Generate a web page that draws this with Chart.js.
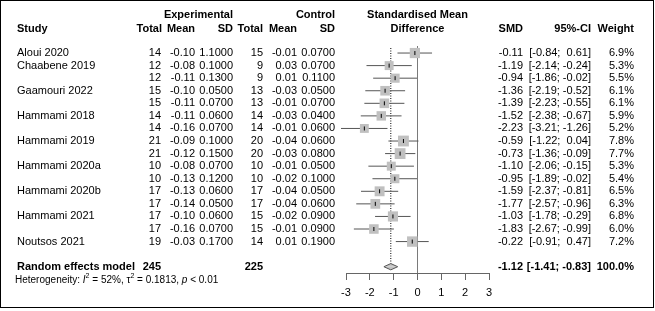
<!DOCTYPE html>
<html lang="en">
<head>
<meta charset="UTF-8" />
<title>Forest plot - SMD</title>
<script src="https://cdn.jsdelivr.net/npm/chart.js"></script>
<style>
  body { margin: 0; background: #fff; }
  canvas { display: block; }
</style>
</head>
<body>
<canvas id="forest" width="655" height="311"></canvas>
<script>
// study rows (empty name = second outcome of the same study)
const studies = ['Aloui 2020', 'Chaabene 2019', '', 'Gaamouri 2022', '', 'Hammami 2018', '',
  'Hammami 2019', '', 'Hammami 2020a', '', 'Hammami 2020b', '', 'Hammami 2021', '', 'Noutsos 2021'];
const expTotal = [14, 12, 12, 15, 15, 14, 14, 21, 21, 10, 10, 17, 17, 17, 17, 19];
const expMean = [-0.10, -0.08, -0.11, -0.10, -0.11, -0.11, -0.16, -0.09, -0.12, -0.08, -0.13, -0.13, -0.14, -0.10, -0.16, -0.03];
const expSD = [1.1, 0.1, 0.13, 0.05, 0.07, 0.06, 0.07, 0.1, 0.15, 0.07, 0.12, 0.06, 0.05, 0.06, 0.07, 0.17];
const ctlTotal = [15, 9, 9, 13, 13, 14, 14, 20, 20, 10, 10, 17, 17, 15, 15, 14];
const ctlMean = [-0.01, 0.03, 0.01, -0.03, -0.01, -0.03, -0.01, -0.04, -0.03, -0.01, -0.02, -0.04, -0.04, -0.02, -0.01, 0.01];
const ctlSD = [0.07, 0.07, 0.11, 0.05, 0.07, 0.04, 0.06, 0.06, 0.08, 0.05, 0.1, 0.05, 0.06, 0.09, 0.09, 0.19];
const smd = [-0.11, -1.19, -0.94, -1.36, -1.39, -1.52, -2.23, -0.59, -0.73, -1.10, -0.95, -1.59, -1.77, -1.03, -1.83, -0.22];
const ciLow = [-0.84, -2.14, -1.86, -2.19, -2.23, -2.38, -3.21, -1.22, -1.36, -2.06, -1.89, -2.37, -2.57, -1.78, -2.67, -0.91];
const ciHigh = [0.61, -0.24, -0.02, -0.52, -0.55, -0.67, -1.26, 0.04, -0.09, -0.15, -0.02, -0.81, -0.96, -0.29, -0.99, 0.47];
const weights = [6.9, 5.3, 5.5, 6.1, 6.1, 5.9, 5.2, 7.8, 7.7, 5.3, 5.4, 6.5, 6.3, 6.8, 6.0, 7.2];

// random effects model
const pooled = { smd: -1.12, low: -1.41, high: -0.83, expN: 245, ctlN: 225, weight: 100.0 };
const xTicks = [-3, -2, -1, 0, 1, 2, 3];

const FONT = "'Liberation Sans', Arial, sans-serif";
const pooledRow = 17;

Chart.defaults.font.family = FONT;
Chart.defaults.font.size = 11;
Chart.defaults.color = '#000';

function fmtCI(lo, hi) {
  const f = v => (v < 0 ? '' : ' ') + v.toFixed(2);
  return '[' + f(lo) + '; ' + f(hi) + ']';
}

// CI segments, broken with null points
const ciPoints = [];
smd.forEach((v, i) => {
  ciPoints.push({ x: ciLow[i], y: i }, { x: ciHigh[i], y: i }, { x: ciHigh[i], y: null });
});
const estPoints = smd.map((v, i) => ({ x: v, y: i }));
const squareRadius = weights.map(w => 2.75 * Math.sqrt(w));

const textPlugin = {
  id: 'forestText',
  afterDraw(chart) {
    const ctx = chart.ctx;
    const ys = chart.scales.y;
    const xs = chart.scales.x;
    ctx.save();
    ctx.fillStyle = '#000';
    ctx.textBaseline = 'middle';

    const put = (txt, x, row, align, bold, size) => {
      ctx.font = (bold ? 'bold ' : '') + (size || 11) + 'px ' + FONT;
      ctx.textAlign = align;
      ctx.fillText(txt, x, ys.getPixelForValue(row));
    };

    // headers
    put('Experimental', 233, -3, 'right', true);
    put('Control', 335, -3, 'right', true);
    put('Standardised Mean', xs.getPixelForValue(0), -3, 'center', true);
    put('Study', 17, -1.9, 'left', true);
    put('Total', 162, -1.9, 'right', true);
    put('Mean', 195, -1.9, 'right', true);
    put('SD', 233, -1.9, 'right', true);
    put('Total', 263, -1.9, 'right', true);
    put('Mean', 297, -1.9, 'right', true);
    put('SD', 335, -1.9, 'right', true);
    put('Difference', xs.getPixelForValue(0), -1.9, 'center', true);
    put('SMD', 523, -1.9, 'right', true);
    put('95%-CI', 591, -1.9, 'right', true);
    put('Weight', 634, -1.9, 'right', true);

    // study rows
    studies.forEach((name, i) => {
      put(name, 17, i, 'left');
      put(String(expTotal[i]), 161, i, 'right');
      put(expMean[i].toFixed(2), 195, i, 'right');
      put(expSD[i].toFixed(4), 233, i, 'right');
      put(String(ctlTotal[i]), 263, i, 'right');
      put(ctlMean[i].toFixed(2), 297, i, 'right');
      put(ctlSD[i].toFixed(4), 335, i, 'right');
      put(smd[i].toFixed(2), 523, i, 'right');
      put(fmtCI(ciLow[i], ciHigh[i]), 591, i, 'right');
      put(weights[i].toFixed(1) + '%', 634, i, 'right');
    });

    // pooled row
    put('Random effects model', 17, pooledRow, 'left', true);
    put(String(pooled.expN), 161, pooledRow, 'right', true);
    put(String(pooled.ctlN), 263, pooledRow, 'right', true);
    put(pooled.smd.toFixed(2), 523, pooledRow, 'right', true);
    put(fmtCI(pooled.low, pooled.high), 591, pooledRow, 'right', true);
    put(pooled.weight.toFixed(1) + '%', 634, pooledRow, 'right', true);

    // heterogeneity line with italics and superscripts
    const hy = ys.getPixelForValue(pooledRow + 1.05);
    let hx = 15;
    const parts = [
      ['Heterogeneity: ', ''], ['I', 'italic '], ['2', 'sup'], [' = 52%, ', ''],
      ['\u03c4', ''], ['2', 'sup'], [' = 0.1813, ', ''], ['p', 'italic '], [' < 0.01', '']
    ];
    ctx.textAlign = 'left';
    parts.forEach(([t, st]) => {
      if (st === 'sup') {
        ctx.font = '7px ' + FONT;
        ctx.fillText(t, hx, hy - 4);
      } else {
        ctx.font = st + '10px ' + FONT;
        ctx.fillText(t, hx, hy);
      }
      hx += ctx.measureText(t).width;
    });

    // frame
    ctx.strokeStyle = '#000';
    ctx.lineWidth = 1;
    ctx.strokeRect(0.5, 0.5, 653, 307);
    ctx.restore();
  }
};

new Chart(document.getElementById('forest'), {
  type: 'scatter',
  data: {
    datasets: [
      {
        // estimate tick
        data: estPoints,
        pointStyle: 'line',
        pointRotation: 90,
        pointRadius: 2,
        pointBorderWidth: 1,
        pointBorderColor: '#000',
        order: 1,
        clip: false
      },
      {
        // weight squares
        data: estPoints,
        pointStyle: 'rect',
        pointRadius: squareRadius,
        pointBackgroundColor: '#c0c0c0',
        pointBorderColor: '#c0c0c0',
        pointBorderWidth: 0,
        order: 2,
        clip: false
      },
      {
        // diamond upper half
        data: [{ x: pooled.low, y: pooledRow }, { x: pooled.smd, y: pooledRow - 0.25 }, { x: pooled.high, y: pooledRow }],
        showLine: true,
        pointRadius: 0,
        borderColor: '#555',
        borderWidth: 1,
        backgroundColor: '#c4c4c4',
        fill: { value: pooledRow },
        order: 3
      },
      {
        // diamond lower half
        data: [{ x: pooled.low, y: pooledRow }, { x: pooled.smd, y: pooledRow + 0.25 }, { x: pooled.high, y: pooledRow }],
        showLine: true,
        pointRadius: 0,
        borderColor: '#555',
        borderWidth: 1,
        backgroundColor: '#c4c4c4',
        fill: { value: pooledRow },
        order: 3
      },
      {
        // confidence intervals
        data: ciPoints,
        showLine: true,
        spanGaps: false,
        pointRadius: 0,
        borderColor: '#555',
        borderWidth: 1,
        order: 4,
        clip: false
      },
      {
        // pooled estimate dotted line
        data: [{ x: pooled.smd, y: -0.4 }, { x: pooled.smd, y: pooledRow - 0.25 }],
        showLine: true,
        pointRadius: 0,
        borderColor: '#000',
        borderWidth: 1,
        borderDash: [1, 1.5],
        order: 5
      },
      {
        // line of no effect
        data: [{ x: 0, y: -0.56 }, { x: 0, y: 17.5 }],
        showLine: true,
        pointRadius: 0,
        borderColor: '#7a7a7a',
        borderWidth: 1,
        order: 6
      }
    ]
  },
  options: {
    responsive: false,
    animation: false,
    events: [],
    layout: { padding: { left: 346, right: 166, top: 46, bottom: 0 } },
    plugins: { legend: { display: false }, tooltip: { enabled: false } },
    scales: {
      x: {
        type: 'linear',
        min: xTicks[0],
        max: xTicks[xTicks.length - 1],
        border: { color: '#666', width: 1 },
        grid: { drawOnChartArea: false, drawTicks: true, tickLength: 7, color: '#666' },
        ticks: { stepSize: 1, padding: 6, maxRotation: 0, color: '#000', font: { size: 11 } },
        afterFit(s) { s.height = 38; }
      },
      y: {
        type: 'linear',
        min: -0.56,
        max: 17.5,
        reverse: true,
        display: false
      }
    }
  },
  plugins: [textPlugin]
});
</script>
</body>
</html>
